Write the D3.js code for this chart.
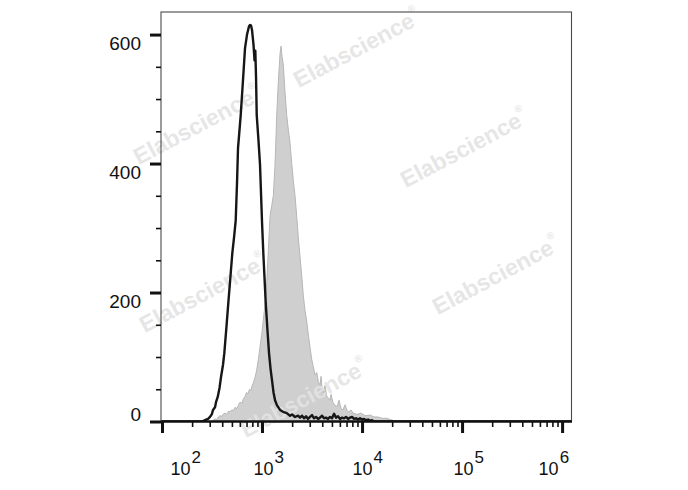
<!DOCTYPE html>
<html><head><meta charset="utf-8">
<script src="https://cdn.jsdelivr.net/npm/d3@7"></script>
<style>
body{margin:0;background:#fff}
svg{display:block;font-family:"Liberation Sans",Arial,Helvetica,sans-serif}
</style>
</head><body>
<svg id="chart" width="688" height="490"></svg>
<script>
// ---------------- data ----------------
const yTickValues = [0, 200, 400, 600];
const yMinorValues = [50, 100, 150, 250, 300, 350, 450, 500, 550];
const xTickExponents = [2, 3, 4, 5, 6];
const xTickLabels = ["2", "3", "4", "5", "6"];

// isotype control (black line): log10 fluorescence, counts
const isoLog = [1.99,2.40,2.43,2.46,2.48,2.50,2.51,2.53,2.54,2.557,2.575,2.59,2.61,2.623,2.645,2.663,2.685,2.703,2.72,2.737,2.75,2.76,2.787,2.81,2.83,2.85,2.87,2.88,2.89,2.90,2.915,2.925,2.933,2.94,2.947,2.965,2.98,3.00,3.013,3.037,3.055,3.07,3.085,3.103,3.115,3.13,3.15,3.18,3.21,3.247,3.28,3.30,3.33,3.36,
  3.38,3.40,3.42,3.44,3.46,3.48,3.50,3.52,3.54,3.56,3.58,3.60,3.62,3.64,3.66,3.68,3.70,3.72,3.74,3.76,3.78,3.80,3.82,3.84,3.86,3.88,3.90,3.92,3.94,3.96,3.98,4.00,4.02,4.04,4.06,4.08,4.10,4.12,6.094];
const isoCount = [0,0,2,4,7,12,18,22,30,38,52,69,88,106,148,184,226,261,285,312,370,424,475,530,579,600,613,615,614,607,584,560,575,535,475,435,398,309,261,184,140,106,82,60,45,33,25,18,15,13,9,11,7,9,
  6,9,5,8,4,7,10,5,7,4,6,9,5,6,4,7,5,12,6,8,4,6,5,7,4,6,7,4,5,3,5,3,4,2,3,1,2,0,0];

// stained sample (grey filled): log10 fluorescence, counts
const stainLog = [2.50,2.51,2.53,2.55,2.563,2.58,2.60,2.615,2.63,2.65,2.665,2.68,2.697,2.715,2.73,2.745,2.763,2.78,2.80,2.815,2.83,2.845,2.86,2.875,2.89,2.90,2.913,2.93,2.947,2.965,2.98,2.997,3.013,3.03,3.047,3.063,3.08,3.097,3.113,3.13,3.147,3.163,3.18,3.19,3.20,3.213,3.23,3.247,3.265,3.28,3.297,3.315,3.33,3.347,3.363,3.38,3.397,3.413,3.43,3.447,3.465,3.48,3.497,3.513,3.53,3.547,3.563,3.58,3.59,3.60,3.613,3.63,3.645,3.66,3.68,3.69,3.71,3.73,3.75,3.77,3.79,3.81,3.83,3.85,3.87,3.89,3.91,3.95,3.99,4.03,4.08,4.12,4.16,4.20,4.25,4.28,4.31,4.33];
const stainCount = [0,2,4,3,7,9,8,12,13,11,16,15,18,17,22,20,25,30,28,36,38,45,43,50,48,55,60,68,80,98,116,135,157,182,215,265,318,335,350,398,475,527,570,582,566,553,510,475,450,432,400,370,350,318,285,255,226,195,172,155,132,115,96,85,72,76,62,56,70,52,45,56,40,37,33,42,29,25,23,33,20,18,26,17,15,18,13,11,13,9,10,7,7,5,5,3,2,0];

const watermarkText = "Elabscience";

// ---------------- layout ----------------
const plot = {left: 161, right: 571.5, top: 12, bottom: 421.5};
const xLabelShift = [8, -9, -10, -9, -24];
const watermarkCenters = [[358,50],[198,127],[465,150],[204,295],[497,277],[305,400]];

const svg = d3.select("#chart");
const x = d3.scaleLog().domain([Math.pow(10,1.99), Math.pow(10,6.094)]).range([plot.left, plot.right]);
const y = d3.scaleLinear().domain([0, 635]).range([plot.bottom, plot.top]);

svg.append("defs").append("clipPath").attr("id","clip")
  .append("rect").attr("x",plot.left).attr("y",plot.top)
  .attr("width",plot.right-plot.left).attr("height",plot.bottom-plot.top);

// grey filled histogram
const stainData = stainLog.map((e,i)=>({v:Math.pow(10,e), c:stainCount[i]}));
svg.append("path").datum(stainData)
  .attr("clip-path","url(#clip)")
  .attr("d", d3.area().x(d=>x(d.v)).y0(y(0)).y1(d=>y(d.c)))
  .attr("fill","#cfcfcf").attr("stroke","#b6b6b6").attr("stroke-width",1);

// watermarks
const wm = svg.append("g");
watermarkCenters.forEach(([cx,cy])=>{
  const t = wm.append("text")
    .attr("transform",`translate(${cx},${cy}) rotate(-28)`)
    .attr("text-anchor","middle").attr("dominant-baseline","middle")
    .attr("font-size",23).attr("font-weight","bold")
    .attr("fill","#e3e3e3").attr("fill-opacity",0.9);
  t.append("tspan").text(watermarkText);
  t.append("tspan").attr("font-size",10).attr("dy",-11).text("®");
});

// black isotype line
const isoData = isoLog.map((e,i)=>({v:Math.pow(10,e), c:isoCount[i]}));
svg.append("path").datum(isoData)
  .attr("clip-path","url(#clip)")
  .attr("d", d3.line().x(d=>x(d.v)).y(d=>y(d.c)))
  .attr("fill","none").attr("stroke","#161616").attr("stroke-width",2.4)
  .attr("stroke-linejoin","round");

// frame
svg.append("rect").attr("x",plot.left).attr("y",plot.top)
  .attr("width",plot.right-plot.left).attr("height",plot.bottom-plot.top)
  .attr("fill","none").attr("stroke","#4a4a4a").attr("stroke-width",1.1);

// y axis
const yMinorAxis = svg.append("g").attr("transform",`translate(${plot.left},0)`)
  .call(d3.axisLeft(y).tickValues(yMinorValues).tickSize(5).tickFormat(""));
yMinorAxis.select(".domain").remove();
yMinorAxis.selectAll("line").attr("stroke","#111").attr("stroke-width",1.6);

const yAxis = svg.append("g").attr("transform",`translate(${plot.left},0)`)
  .call(d3.axisLeft(y).tickValues(yTickValues).tickSize(11).tickPadding(9).tickFormat(d3.format("d")));
yAxis.select(".domain").remove();
yAxis.selectAll("line").attr("stroke","#111").attr("stroke-width",3);
yAxis.selectAll("text").attr("font-size",19).attr("fill","#111")
  .attr("font-family","'Liberation Sans',Arial,sans-serif")
  .attr("dy",null).attr("y",d=>d===0?-1:14.5);

// x axis
const xMinorValues = [];
xTickExponents.slice(0,-1).forEach(k=>{ for(let m=2;m<=9;m++) xMinorValues.push(m*Math.pow(10,k)); });
const xMinorAxis = svg.append("g").attr("transform",`translate(0,${plot.bottom-0.5})`)
  .call(d3.axisBottom(x).tickValues(xMinorValues).tickSize(6).tickSizeOuter(0).tickFormat(""));
xMinorAxis.select(".domain").attr("stroke","#111").attr("stroke-width",2.6);
xMinorAxis.selectAll("line").attr("stroke","#111").attr("stroke-width",1.6);

const xAxis = svg.append("g").attr("transform",`translate(0,${plot.bottom-0.5})`)
  .call(d3.axisBottom(x).tickValues(xTickExponents.map(k=>Math.pow(10,k))).tickSize(12).tickSizeOuter(0).tickFormat(""));
xAxis.select(".domain").remove();
xAxis.selectAll("line").attr("stroke","#111").attr("stroke-width",3);

xAxis.selectAll(".tick").each(function(d,i){
  const t = d3.select(this).append("text")
    .attr("x", xLabelShift[i]).attr("y", 54)
    .attr("text-anchor","start").attr("fill","#111")
    .attr("font-family","'Liberation Sans',Arial,sans-serif");
  t.append("tspan").attr("font-size",18).text("10");
  t.append("tspan").attr("font-size",17).attr("dx",1).attr("dy",-12).text(xTickLabels[i]);
});
</script>
</body></html>
